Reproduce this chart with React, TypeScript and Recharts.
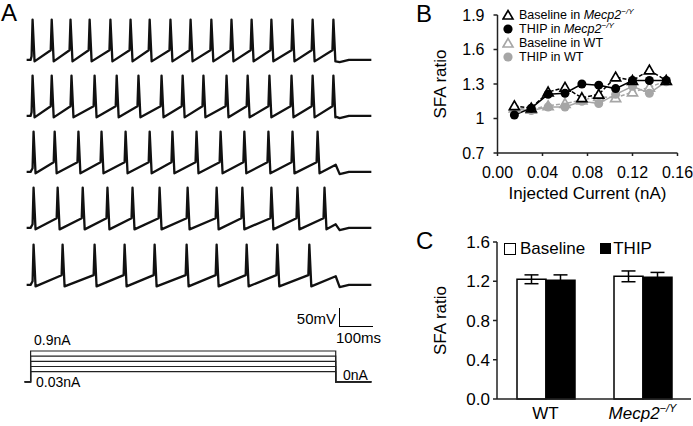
import React from "react";
import { LineChart, Line, XAxis, YAxis, BarChart, Bar, ErrorBar } from "recharts";

const FONT = '"Liberation Sans", Arial, Helvetica, sans-serif';
const GRAY = "#a6a6a6";
const AXIS = "#222";

// ---- Panel A: five example sweeps, spike times in ms after step onset (top to bottom)
const sweep1Spikes = [6, 64, 121, 179, 242, 303, 361, 424, 485, 548, 609, 670, 730, 794, 855, 918];
const sweep2Spikes = [6, 64, 124, 194, 261, 327, 397, 461, 524, 594, 658, 724, 791, 855, 918];
const sweep3Spikes = [9, 73, 145, 215, 288, 361, 430, 503, 576, 648, 721, 794, 870];
const sweep4Spikes = [9, 82, 158, 233, 309, 391, 476, 564, 642, 730, 809, 891];
const sweep5Spikes = [9, 97, 194, 285, 376, 473, 564, 655, 748, 845];
const stepEndMv = [-76, -74, -52, -62, -48];
// step currents (nA), bottom to top
const stimCurrents = [0.03, 0.045, 0.06, 0.075, 0.09];

const STEP_END = 925;
const SWEEP_START = -12;
const SWEEP_END = 1033;
const REST_MV = -72;
const THRESH_MV = -45;
const PEAK_MV = 40;
const AHP_MV = -76;

// ---- Panel B: SFA ratio vs injected current
const currentSteps = [0.015, 0.03, 0.045, 0.06, 0.075, 0.09, 0.105, 0.12, 0.135, 0.15];
const baselineMecp2 = [1.11, 1.09, 1.23, 1.27, 1.18, 1.21, 1.36, 1.33, 1.42, 1.33];
const thipMecp2 = [1.03, 1.09, 1.21, 1.22, 1.3, 1.29, 1.26, 1.33, 1.33, 1.33];
const baselineWT = [1.09, 1.08, 1.11, 1.13, 1.16, 1.19, 1.18, 1.23, 1.27, 1.33];
const thipWT = [1.08, 1.07, 1.1, 1.1, 1.15, 1.13, 1.21, 1.28, 1.22, 1.32];

// ---- Panel C: mean SFA ratio
const genotypes = ["WT", "Mecp2-/Y"];
const baselineMean = [1.22, 1.25];
const baselineSem = [0.045, 0.055];
const thipMean = [1.21, 1.24];
const thipSem = [0.055, 0.05];

function buildSweep(spikes: number[], endMv: number) {
  const pts = [
    { t: SWEEP_START, v: REST_MV },
    { t: 0, v: REST_MV },
  ];
  spikes.forEach((s, i) => {
    pts.push({ t: s - 3, v: i === 0 ? REST_MV + 10 : THRESH_MV });
    pts.push({ t: s, v: PEAK_MV });
    pts.push({ t: s + 6, v: AHP_MV });
  });
  pts.push({ t: STEP_END, v: endMv });
  pts.push({ t: STEP_END + 12, v: REST_MV - 6 });
  pts.push({ t: STEP_END + 40, v: REST_MV });
  pts.push({ t: SWEEP_END, v: REST_MV });
  return pts;
}

const sweeps = [sweep1Spikes, sweep2Spikes, sweep3Spikes, sweep4Spikes, sweep5Spikes].map((s, i) =>
  buildSweep(s, stepEndMv[i])
);
const sweepTops = [12, 68, 124, 180, 237];

const stimData = (amp: number) => [
  { t: -18, i: 0 },
  { t: 0, i: 0 },
  { t: 0, i: amp },
  { t: STEP_END, i: amp },
  { t: STEP_END, i: 0 },
  { t: SWEEP_END, i: 0 },
];

const bData = currentSteps.map((c, i) => ({
  current: c,
  baselineMecp2: baselineMecp2[i],
  thipMecp2: thipMecp2[i],
  baselineWT: baselineWT[i],
  thipWT: thipWT[i],
}));

const cData = genotypes.map((g, i) => ({
  genotype: g,
  baseline: baselineMean[i],
  baselineErr: baselineSem[i],
  thip: thipMean[i],
  thipErr: thipSem[i],
}));

const triangleDot = (color: string) => (props: any) => {
  const { cx, cy, index } = props;
  if (cx == null || cy == null) return <g key={index} />;
  const r = 5;
  return (
    <polygon
      key={index}
      points={`${cx},${cy - r} ${cx + r},${cy + r * 0.75} ${cx - r},${cy + r * 0.75}`}
      fill="#fff"
      stroke={color}
      strokeWidth={1.7}
    />
  );
};

function Mecp2({ size }: { size: number }) {
  return (
    <span style={{ fontStyle: "italic" }}>
      Mecp2
      <sup style={{ fontSize: size * 0.65, verticalAlign: "top", lineHeight: 1 }}>−/Y</sup>
    </span>
  );
}

function GenotypeTick(props: any) {
  const { x, y, payload } = props;
  if (payload.value === "WT") {
    return (
      <text x={x} y={y} dy="0.71em" textAnchor="middle" fontSize={17} fill="#000">
        WT
      </text>
    );
  }
  const [name, sup] = payload.value.split("-");
  return (
    <text x={x} y={y} dy="0.71em" textAnchor="middle" fontSize={17} fill="#000" fontStyle="italic">
      <tspan>{name}</tspan>
      <tspan fontSize={11} dy={-7}>
        {"−" + sup}
      </tspan>
    </text>
  );
}

const bLegend = [
  { key: "bm", label: "Baseline in ", mecp: true, color: "#000", shape: "tri" },
  { key: "tm", label: "THIP in ", mecp: true, color: "#000", shape: "dot" },
  { key: "bw", label: "Baseline in WT", mecp: false, color: GRAY, shape: "tri" },
  { key: "tw", label: "THIP in WT", mecp: false, color: GRAY, shape: "dot" },
];

const abs = (left: number, top: number, extra: React.CSSProperties = {}): React.CSSProperties => ({
  position: "absolute",
  left,
  top,
  ...extra,
});

export default function App() {
  return (
    <div
      style={{
        position: "absolute",
        left: 0,
        top: 0,
        width: 693,
        height: 426,
        background: "#fff",
        fontFamily: FONT,
        color: "#000",
        overflow: "hidden",
      }}
    >
      {/* Panel letters */}
      <div style={abs(1, 1, { fontSize: 24, lineHeight: "24px" })}>A</div>
      <div style={abs(416, 2, { fontSize: 24, lineHeight: "24px" })}>B</div>
      <div style={abs(416, 229, { fontSize: 24, lineHeight: "24px" })}>C</div>

      {/* Panel A: voltage sweeps */}
      {sweeps.map((pts, i) => (
        <div key={i} style={abs(24, sweepTops[i])}>
          <LineChart width={348} height={58} data={pts} margin={{ top: 0, right: 0, bottom: 0, left: 0 }}>
            <XAxis type="number" dataKey="t" domain={[-20, 1035]} hide />
            <YAxis type="number" domain={[-100, 61]} hide allowDataOverflow />
            <Line
              type="linear"
              dataKey="v"
              stroke="#111"
              strokeWidth={2.3}
              strokeLinejoin="round"
              dot={false}
              isAnimationActive={false}
            />
          </LineChart>
        </div>
      ))}

      {/* scale bar */}
      <div
        style={abs(339, 308, {
          width: 33,
          height: 18,
          borderLeft: "1.5px solid #000",
          borderBottom: "1.5px solid #000",
        })}
      />
      <div style={abs(286, 311, { width: 50, textAlign: "right", fontSize: 15, lineHeight: "15px" })}>50mV</div>
      <div style={abs(336, 330, { fontSize: 15, lineHeight: "15px" })}>100ms</div>

      {/* Panel A: current steps */}
      <div style={abs(24, 349)}>
        <LineChart width={348} height={34} margin={{ top: 0, right: 0, bottom: 0, left: 0 }}>
          <XAxis type="number" dataKey="t" domain={[-20, 1035]} hide />
          <YAxis type="number" domain={[-0.003, 0.0958]} hide allowDataOverflow />
          {stimCurrents.map((amp) => (
            <Line
              key={amp}
              data={stimData(amp)}
              type="linear"
              dataKey="i"
              stroke="#222"
              strokeWidth={1.2}
              dot={false}
              isAnimationActive={false}
            />
          ))}
        </LineChart>
      </div>
      <div style={abs(34, 333, { fontSize: 14, lineHeight: "14px" })}>0.9nA</div>
      <div style={abs(36, 375, { fontSize: 14, lineHeight: "14px" })}>0.03nA</div>
      <div style={abs(343, 368, { fontSize: 14, lineHeight: "14px" })}>0nA</div>

      {/* Panel B */}
      <div style={abs(430, 0)}>
        <LineChart width={263} height={210} data={bData} margin={{ top: 15, right: 15.5, bottom: 0, left: 10 }}>
          <XAxis
            type="number"
            dataKey="current"
            domain={[0, 0.16]}
            ticks={[0, 0.04, 0.08, 0.12, 0.16]}
            tickFormatter={(v: number) => v.toFixed(2)}
            height={57}
            tickSize={3}
            tickMargin={11}
            axisLine={{ stroke: AXIS, strokeWidth: 1.5 }}
            tickLine={{ stroke: AXIS, strokeWidth: 1.5 }}
            tick={{ fill: "#000", fontSize: 16 }}
            label={{ value: "Injected Current (nA)", position: "insideBottom", offset: 11, fill: "#000", fontSize: 17 }}
          />
          <YAxis
            type="number"
            domain={[0.7, 1.9]}
            ticks={[0.7, 1, 1.3, 1.6, 1.9]}
            tickFormatter={(v: number) => String(v)}
            width={57.5}
            tickSize={4}
            tickMargin={9}
            axisLine={{ stroke: AXIS, strokeWidth: 1.5 }}
            tickLine={{ stroke: AXIS, strokeWidth: 1.5 }}
            tick={{ fill: "#000", fontSize: 16 }}
            label={{
              value: "SFA ratio",
              angle: -90,
              position: "insideLeft",
              offset: 0,
              fill: "#000",
              fontSize: 17,
              style: { textAnchor: "middle" },
            }}
          />
          <Line
            dataKey="baselineWT"
            stroke={GRAY}
            strokeWidth={1.5}
            strokeDasharray="4 2"
            dot={triangleDot(GRAY)}
            isAnimationActive={false}
          />
          <Line
            dataKey="thipWT"
            stroke={GRAY}
            strokeWidth={1.5}
            dot={{ r: 4.5, fill: GRAY, stroke: GRAY, strokeWidth: 0 }}
            isAnimationActive={false}
          />
          <Line
            dataKey="baselineMecp2"
            stroke="#000"
            strokeWidth={1.5}
            strokeDasharray="4 2"
            dot={triangleDot("#000")}
            isAnimationActive={false}
          />
          <Line
            dataKey="thipMecp2"
            stroke="#000"
            strokeWidth={1.5}
            dot={{ r: 4.5, fill: "#000", stroke: "#000", strokeWidth: 0 }}
            isAnimationActive={false}
          />
        </LineChart>
      </div>
      <div style={abs(502, 8, { fontSize: 12.5, lineHeight: "14px" })}>
        {bLegend.map((e) => (
          <div key={e.key} style={{ display: "flex", alignItems: "center", height: 14 }}>
            <svg width={16} height={12} style={{ marginRight: 1 }}>
              {e.shape === "tri" ? (
                <polygon points="6,1.5 11,10 1,10" fill="#fff" stroke={e.color} strokeWidth={1.6} />
              ) : (
                <circle cx={6} cy={6} r={4.6} fill={e.color} />
              )}
            </svg>
            <span>
              {e.label}
              {e.mecp && <Mecp2 size={12.5} />}
            </span>
          </div>
        ))}
      </div>

      {/* Panel C */}
      <div style={abs(430, 200)}>
        <BarChart
          width={263}
          height={226}
          data={cData}
          margin={{ top: 42, right: 2, bottom: 0, left: 10 }}
          barGap={0}
          barSize={29}
        >
          <XAxis
            dataKey="genotype"
            height={27}
            tickLine={false}
            tickSize={0}
            tickMargin={8}
            axisLine={{ stroke: AXIS, strokeWidth: 1.5 }}
            tick={<GenotypeTick />}
          />
          <YAxis
            type="number"
            domain={[0, 1.6]}
            ticks={[0, 0.4, 0.8, 1.2, 1.6]}
            tickFormatter={(v: number) => v.toFixed(1)}
            width={57}
            tickSize={4}
            tickMargin={3}
            axisLine={{ stroke: AXIS, strokeWidth: 1.5 }}
            tickLine={{ stroke: AXIS, strokeWidth: 1.5 }}
            tick={{ fill: "#000", fontSize: 17 }}
            label={{
              value: "SFA ratio",
              angle: -90,
              position: "insideLeft",
              offset: 0,
              fill: "#000",
              fontSize: 17,
              style: { textAnchor: "middle" },
            }}
          />
          <Bar dataKey="baseline" fill="#fff" stroke="#000" strokeWidth={1.5} isAnimationActive={false}>
            <ErrorBar dataKey="baselineErr" width={7} stroke="#000" strokeWidth={1.5} />
          </Bar>
          <Bar dataKey="thip" fill="#000" stroke="#000" strokeWidth={1.5} isAnimationActive={false}>
            <ErrorBar dataKey="thipErr" width={7} stroke="#000" strokeWidth={1.5} />
          </Bar>
        </BarChart>
      </div>
      <div style={abs(504, 240, { fontSize: 17, lineHeight: "17px", display: "flex", alignItems: "center" })}>
        <span style={{ width: 10, height: 10, border: "1.3px solid #000", background: "#fff", marginRight: 4, display: "inline-block" }} />
        <span>Baseline</span>
        <span style={{ width: 11, height: 11, background: "#000", marginLeft: 15, marginRight: 2, display: "inline-block" }} />
        <span>THIP</span>
      </div>
    </div>
  );
}
